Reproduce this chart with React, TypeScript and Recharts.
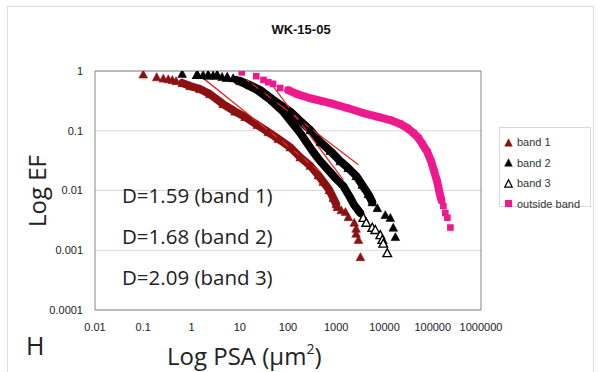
import React from 'react';
import { ComposedChart, Scatter, Line, XAxis, YAxis, CartesianGrid, ReferenceLine } from 'recharts';

const xTicks = [0.01, 0.1, 1, 10, 100, 1000, 10000, 100000, 1000000];
const yTicks = [0.0001, 0.001, 0.01, 0.1, 1];

// band 1 (dark red filled triangles)
const band1Head = [
  { x: 0.1, y: 0.88 }, { x: 0.19, y: 0.79 }, { x: 0.26, y: 0.75 }, { x: 0.33, y: 0.73 },
  { x: 0.4, y: 0.71 }, { x: 0.48, y: 0.68 },
];
const band1Body = [
  { x: 0.64, y: 0.63 }, { x: 0.94, y: 0.56 }, { x: 1.5, y: 0.5 }, { x: 2.4, y: 0.41 },
  { x: 4.5, y: 0.28 }, { x: 8, y: 0.21 }, { x: 12.9, y: 0.17 }, { x: 23, y: 0.125 },
  { x: 39, y: 0.095 }, { x: 63, y: 0.073 }, { x: 111, y: 0.053 }, { x: 179, y: 0.036 },
  { x: 289, y: 0.026 }, { x: 424, y: 0.018 }, { x: 537, y: 0.014 }, { x: 716, y: 0.0102 },
  { x: 867, y: 0.0075 }, { x: 1000, y: 0.0059 },
];
const band1Tail = [
  { x: 1050, y: 0.0053 }, { x: 1270, y: 0.0047 }, { x: 1550, y: 0.0044 }, { x: 1780, y: 0.0036 },
  { x: 2360, y: 0.0029 }, { x: 2580, y: 0.0023 }, { x: 2580, y: 0.0019 }, { x: 2880, y: 0.0015 },
  { x: 3170, y: 0.00077 },
];

// band 2 (black filled triangles)
const band2Head = [
  { x: 0.64, y: 0.9 }, { x: 1.31, y: 0.87 }, { x: 1.74, y: 0.86 }, { x: 2.21, y: 0.85 },
  { x: 2.8, y: 0.85 }, { x: 3.4, y: 0.85 }, { x: 4.3, y: 0.8 }, { x: 5.5, y: 0.78 }, { x: 7.3, y: 0.76 },
];
const band2Body = [
  { x: 10.2, y: 0.68 }, { x: 16.4, y: 0.58 }, { x: 26.5, y: 0.48 }, { x: 49, y: 0.33 },
  { x: 111, y: 0.21 }, { x: 179, y: 0.146 }, { x: 289, y: 0.103 }, { x: 466, y: 0.065 },
  { x: 751, y: 0.046 }, { x: 1210, y: 0.031 }, { x: 1770, y: 0.0238 }, { x: 2600, y: 0.0175 },
  { x: 3460, y: 0.0124 }, { x: 4610, y: 0.0087 }, { x: 5580, y: 0.0064 },
];
const band2Tail = [
  { x: 7100, y: 0.0051 }, { x: 10400, y: 0.0039 }, { x: 13200, y: 0.0035 },
  { x: 15200, y: 0.0024 }, { x: 16800, y: 0.00167 },
];

// band 3 (black hollow triangles)
const band3Head = [
  { x: 1.31, y: 0.87 }, { x: 2.21, y: 0.85 }, { x: 3.4, y: 0.85 }, { x: 5.5, y: 0.78 },
];
const band3Body = [
  { x: 8.5, y: 0.71 }, { x: 12.9, y: 0.61 }, { x: 23, y: 0.48 }, { x: 43, y: 0.33 }, { x: 79, y: 0.21 },
  { x: 122, y: 0.135 }, { x: 179, y: 0.092 }, { x: 250, y: 0.062 }, { x: 333, y: 0.044 },
  { x: 466, y: 0.031 }, { x: 682, y: 0.022 }, { x: 1000, y: 0.0156 }, { x: 1400, y: 0.0119 },
  { x: 1860, y: 0.0081 }, { x: 2360, y: 0.0057 }, { x: 3150, y: 0.0042 },
];
const band3Tail = [
  { x: 3640, y: 0.0035 }, { x: 4190, y: 0.0029 }, { x: 5580, y: 0.0024 }, { x: 6440, y: 0.0022 },
  { x: 8180, y: 0.0018 }, { x: 9000, y: 0.0015 }, { x: 9440, y: 0.0013 }, { x: 11400, y: 0.0009 },
];

// outside band (pink squares)
const outsideHead = [
  { x: 11, y: 0.95 }, { x: 22, y: 0.82 }, { x: 31, y: 0.71 }, { x: 39, y: 0.65 },
  { x: 49, y: 0.61 }, { x: 69, y: 0.52 },
];
const outsideBody = [
  { x: 101, y: 0.48 }, { x: 155, y: 0.41 }, { x: 289, y: 0.35 }, { x: 751, y: 0.29 },
  { x: 1690, y: 0.24 }, { x: 3630, y: 0.198 }, { x: 7430, y: 0.17 }, { x: 13200, y: 0.151 },
  { x: 21300, y: 0.13 }, { x: 29700, y: 0.111 }, { x: 39600, y: 0.092 }, { x: 50300, y: 0.076 },
  { x: 60800, y: 0.06 }, { x: 77300, y: 0.044 }, { x: 93500, y: 0.03 }, { x: 108000, y: 0.0204 },
  { x: 124000, y: 0.0139 }, { x: 137000, y: 0.0094 }, { x: 151000, y: 0.0069 },
];
const outsideTail = [
  { x: 166000, y: 0.0055 }, { x: 182000, y: 0.0042 }, { x: 201000, y: 0.0035 }, { x: 232000, y: 0.0024 },
];

// power-law fit lines
const fit1 = [{ x: 1.74, y: 0.76 }, { x: 468, y: 0.0204 }];
const fit2 = [{ x: 14.1, y: 0.71 }, { x: 2880, y: 0.027 }];
const fit3 = [{ x: 39, y: 0.71 }, { x: 1400, y: 0.015 }];

const annotations = ['D=1.59 (band 1)', 'D=1.68 (band 2)', 'D=2.09 (band 3)'];
const legendItems = [
  { name: 'band 1', kind: 'tri', color: '#8b1212' },
  { name: 'band 2', kind: 'tri', color: '#000000' },
  { name: 'band 3', kind: 'hollow', color: '#000000' },
  { name: 'outside band', kind: 'square', color: '#ee1a8d' },
];

const C1 = '#8b1212';
const C2 = '#000000';
const CP = '#ee1a8d';
const FIT = '#e8262b';

const tri = (color: string, hollow = false) => (props: any) => {
  const { cx, cy } = props;
  if (cx == null || cy == null) return <g />;
  const s = 4.3;
  const d = `M${cx},${cy - s}L${cx + s},${cy + s * 0.85}L${cx - s},${cy + s * 0.85}Z`;
  return <path d={d} fill={hollow ? '#ffffff' : color} stroke={color} strokeWidth={hollow ? 1.4 : 0.6} />;
};
const square = (color: string) => (props: any) => {
  const { cx, cy } = props;
  if (cx == null || cy == null) return <g />;
  return <rect x={cx - 3.3} y={cy - 3.3} width={6.6} height={6.6} fill={color} />;
};

const tickStyle = { fontFamily: 'Liberation Sans, Arial, sans-serif', fontSize: 11, fill: '#222' };

function LegendIcon({ kind, color }: { kind: string; color: string }) {
  if (kind === 'square') {
    return (
      <svg width={9} height={9} style={{ display: 'block' }}>
        <rect x={1} y={1} width={7} height={7} fill={color} />
      </svg>
    );
  }
  return (
    <svg width={9} height={9} style={{ display: 'block' }}>
      <path d="M4.5,0.8L8.3,8.2L0.7,8.2Z" fill={kind === 'hollow' ? '#fff' : color} stroke={color} strokeWidth={kind === 'hollow' ? 1.3 : 0.5} />
    </svg>
  );
}

export default function App() {
  const band1 = [...band1Head, ...band1Body, ...band1Tail];
  const band2 = [...band2Head, ...band2Body, ...band2Tail];
  const band3Markers = [...band3Head, ...band3Tail];
  const outside = [...outsideHead, ...outsideBody, ...outsideTail];
  const bodyLine = (data: any[], color: string) => (
    <Line data={data} dataKey="y" type="linear" stroke={color} strokeWidth={8} strokeLinejoin="round" strokeLinecap="round" dot={false} activeDot={false} isAnimationActive={false} legendType="none" />
  );
  return (
    <div style={{ position: 'absolute', left: 0, top: 0, width: 603, height: 372, background: '#fff', overflow: 'hidden' }}>
      <div style={{ position: 'absolute', left: 7, top: 6, width: 585, height: 380, border: '1px solid #dcdcdc' }} />
      <div style={{ position: 'absolute', left: 0, top: 0 }}>
        <ComposedChart width={603} height={372} margin={{ top: 71, right: 122, bottom: 0, left: 0 }}>
          <CartesianGrid vertical={false} stroke="#d9d9d9" horizontalValues={yTicks} />
          <XAxis
            dataKey="x" type="number" scale="log" domain={[0.01, 1000000]} ticks={xTicks}
            allowDataOverflow height={62} tickLine={false} tickSize={0} tickMargin={13}
            tick={tickStyle} stroke="#868686" tickFormatter={(v: number) => String(v)} interval={0}
          />
          <YAxis
            dataKey="y" type="number" scale="log" domain={[0.0001, 1]} ticks={yTicks}
            allowDataOverflow width={95} tickLine={false} tickSize={0} tickMargin={12}
            tick={tickStyle} stroke="#868686" tickFormatter={(v: number) => String(v)} interval={0}
          />
          <ReferenceLine y={1} stroke="#868686" />
          <ReferenceLine x={1000000} stroke="#868686" />

          {bodyLine(band1Body, C1)}
          <Scatter name="band 1" data={band1} dataKey="y" fill={C1} shape={tri(C1)} isAnimationActive={false} />

          {bodyLine(band3Body, C2)}
          <Scatter name="band 3" data={band3Markers} dataKey="y" fill={C2} shape={tri(C2, true)} isAnimationActive={false} />

          {bodyLine(band2Body, C2)}
          <Scatter name="band 2" data={band2} dataKey="y" fill={C2} shape={tri(C2)} isAnimationActive={false} />

          {bodyLine(outsideBody, CP)}
          <Scatter name="outside band" data={outside} dataKey="y" fill={CP} shape={square(CP)} isAnimationActive={false} />

          <ReferenceLine segment={fit1} stroke={FIT} strokeWidth={1.3} ifOverflow="visible" />
          <ReferenceLine segment={fit2} stroke={FIT} strokeWidth={1.3} ifOverflow="visible" />
          <ReferenceLine segment={fit3} stroke={FIT} strokeWidth={1.3} ifOverflow="visible" />
        </ComposedChart>
      </div>

      <svg width={603} height={372} style={{ position: 'absolute', left: 0, top: 0, pointerEvents: 'none' }}>
        <text x={301} y={34} textAnchor="middle" fontFamily="Liberation Sans, Arial, sans-serif" fontWeight="bold" fontSize={13} fill="#111">WK-15-05</text>
        <text transform="translate(46,191) rotate(-90)" textAnchor="middle" fontFamily="Open Sans, sans-serif" fontSize={24} fill="#222">Log EF</text>
        {annotations.map((t, i) => (
          <text key={t} x={122} y={203 + i * 41} fontFamily="Open Sans, sans-serif" fontSize={20.5} fill="#222">{t}</text>
        ))}
        <text x={26} y={355} fontFamily="Open Sans, sans-serif" fontSize={25} fill="#222">H</text>
        <text x={167} y={365} fontFamily="Open Sans, sans-serif" fontSize={24} fill="#222">
          Log PSA (μm<tspan dy={-11} fontSize={14}>2</tspan><tspan dy={11}>)</tspan>
        </text>
      </svg>

      <div style={{ position: 'absolute', left: 499, top: 127, width: 92, height: 80, border: '1px solid #d9d9d9', background: '#fff', boxSizing: 'border-box', paddingTop: 4 }}>
        {legendItems.map((it) => (
          <div key={it.name} style={{ display: 'flex', alignItems: 'center', height: 20.5, paddingLeft: 4 }}>
            <LegendIcon kind={it.kind} color={it.color} />
            <span style={{ marginLeft: 4, fontFamily: 'Liberation Sans, Arial, sans-serif', fontSize: 11, color: '#333' }}>{it.name}</span>
          </div>
        ))}
      </div>
    </div>
  );
}
